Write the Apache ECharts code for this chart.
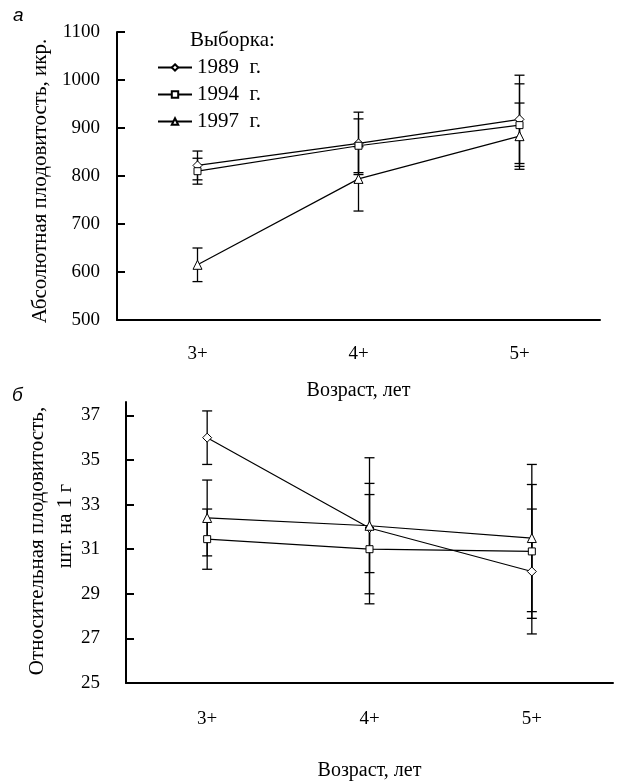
<!DOCTYPE html>
<html>
<head>
<meta charset="utf-8">
<style>
  html, body { margin: 0; padding: 0; background: #fff; }
  #chart { width: 624px; height: 782px; }
</style>
<script src="https://cdn.jsdelivr.net/npm/echarts@6/dist/echarts.min.js"></script>
</head>
<body>
<div id="chart"></div>
<script>
// возрастные группы
const ages = ['3+', '4+', '5+']
const samples = ['1989  г.', '1994  г.', '1997  г.']

// а: абсолютная плодовитость, икр.
const abs1989 = [822, 868, 918]
const abs1994 = [810, 863, 906]
const abs1997 = [615, 794, 883]
const absErr1989 = [30, 65, 92]
const absErr1994 = [27, 56, 86]
const absErr1997 = [35, 67, 69]

// б: относительная плодовитость, шт. на 1 г
const rel1989 = [36.0, 31.95, 30.0]
const rel1994 = [31.45, 31.0, 30.9]
const rel1997 = [32.4, 32.05, 31.5]
const relErr1989 = [1.2, 2.0, 2.8]
const relErr1994 = [1.35, 2.45, 3.0]
const relErr1997 = [1.7, 3.05, 3.3]

const relTicks = [25, 27, 29, 31, 33, 35, 37]

const FONT = 'Liberation Serif'
const symbols = ['diamond', 'rect', 'triangle']
const symbolSizes = [9, 7, 9]

const axisLine = { lineStyle: { color: '#000', width: 2 } }
const textStyle = { color: '#000', fontFamily: FONT, fontSize: 19 }

const lineSeries = (k, values, gi) => ({
  name: samples[k],
  type: 'line',
  xAxisIndex: gi,
  yAxisIndex: gi,
  data: values,
  symbol: symbols[k],
  symbolSize: symbolSizes[k],
  z: 3,
  lineStyle: { color: '#000', width: 1.2 },
  itemStyle: { color: '#fff', borderColor: '#000', borderWidth: 1 },
  emphasis: { disabled: true }
})

const errSeries = (values, errs, gi) => ({
  type: 'custom',
  xAxisIndex: gi,
  yAxisIndex: gi,
  z: 2,
  silent: true,
  encode: { x: 0, y: [1, 2] },
  data: values.map((v, i) => [i, v - errs[i], v + errs[i]]),
  renderItem: (params, api) => {
    const lo = api.coord([api.value(0), api.value(1)])
    const hi = api.coord([api.value(0), api.value(2)])
    const w = 5
    const style = { stroke: '#000', lineWidth: 1.3 }
    return {
      type: 'group',
      children: [
        { type: 'line', shape: { x1: hi[0], y1: hi[1], x2: lo[0], y2: lo[1] }, style },
        { type: 'line', shape: { x1: hi[0] - w, y1: hi[1], x2: hi[0] + w, y2: hi[1] }, style },
        { type: 'line', shape: { x1: lo[0] - w, y1: lo[1], x2: lo[0] + w, y2: lo[1] }, style }
      ]
    }
  }
})

const xAxis = (gi, gap, labelMargin) => ({
  type: 'category',
  gridIndex: gi,
  data: ages,
  boundaryGap: true,
  name: 'Возраст, лет',
  nameLocation: 'middle',
  nameGap: gap,
  nameTextStyle: { ...textStyle, fontSize: 20 },
  axisLine,
  axisTick: { inside: true, length: 7, lineStyle: { color: '#000', width: 2 } },
  axisLabel: { ...textStyle, margin: labelMargin },
  splitLine: { show: false }
})

const chart = echarts.init(document.getElementById('chart'))
chart.setOption({
  animation: false,
  backgroundColor: '#fff',
  grid: [
    { left: 117, right: 24, top: 32, bottom: 462 },
    { left: 126, right: 11, top: 402, bottom: 90 }
  ],
  legend: {
    data: samples,
    orient: 'vertical',
    left: 152,
    top: 52,
    itemWidth: 34,
    itemHeight: 8,
    itemGap: 6,
    textStyle: { ...textStyle, fontSize: 21 },
    selectedMode: false
  },
  xAxis: [xAxis(0, 61, 25), xAxis(1, 78, 27)],
  yAxis: [
    {
      type: 'value',
      gridIndex: 0,
      min: 500,
      max: 1100,
      interval: 100,
      axisLine: { show: true, ...axisLine },
      axisTick: { show: true, inside: true, length: 8, lineStyle: { color: '#000', width: 2 } },
      axisLabel: { ...textStyle, margin: 17, formatter: v => String(v) },
      splitLine: { show: false }
    },
    {
      type: 'value',
      gridIndex: 1,
      min: 25,
      max: 37.6,
      axisLine: { show: true, ...axisLine },
      axisTick: { show: true, inside: true, length: 8, customValues: relTicks, lineStyle: { color: '#000', width: 2 } },
      axisLabel: { ...textStyle, margin: 26, customValues: relTicks },
      splitLine: { show: false }
    }
  ],
  graphic: [
    { type: 'text', left: 13, top: 6, style: { text: 'а', font: 'italic 19px "Liberation Sans"', fill: '#000' } },
    { type: 'text', left: 12, top: 386, style: { text: 'б', font: 'italic 19px "Liberation Sans"', fill: '#000' } },
    { type: 'text', left: 190, top: 30, style: { text: 'Выборка:', font: '21px "Liberation Serif"', fill: '#000' } },
    {
      type: 'text', x: 40, y: 181, rotation: Math.PI / 2,
      style: { text: 'Абсолютная плодовитость, икр.', font: '21px "Liberation Serif"', fill: '#000', align: 'center', verticalAlign: 'middle' }
    },
    {
      type: 'text', x: 37, y: 541, rotation: Math.PI / 2,
      style: { text: 'Относительная плодовитость,', font: '21px "Liberation Serif"', fill: '#000', align: 'center', verticalAlign: 'middle' }
    },
    {
      type: 'text', x: 65, y: 526, rotation: Math.PI / 2,
      style: { text: 'шт. на 1 г', font: '21px "Liberation Serif"', fill: '#000', align: 'center', verticalAlign: 'middle' }
    }
  ],
  series: [
    errSeries(abs1989, absErr1989, 0),
    errSeries(abs1994, absErr1994, 0),
    errSeries(abs1997, absErr1997, 0),
    lineSeries(0, abs1989, 0),
    lineSeries(1, abs1994, 0),
    lineSeries(2, abs1997, 0),
    errSeries(rel1989, relErr1989, 1),
    errSeries(rel1994, relErr1994, 1),
    errSeries(rel1997, relErr1997, 1),
    lineSeries(0, rel1989, 1),
    lineSeries(1, rel1994, 1),
    lineSeries(2, rel1997, 1)
  ]
})
</script>
</body>
</html>
